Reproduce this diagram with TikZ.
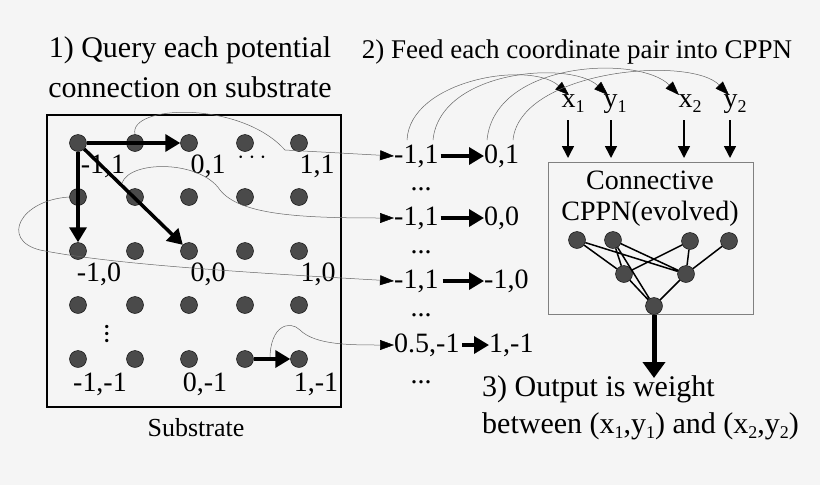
\documentclass[tikz,border=0pt]{standalone}
\usepackage{fontspec}
\setmainfont{Liberation Serif}
\usetikzlibrary{arrows.meta}
\definecolor{bg}{HTML}{F5F5F5}
\definecolor{dot}{HTML}{4A4A4A}
\begin{document}
\begin{tikzpicture}[x=1pt,y=-1pt,
  dotn/.style={circle,fill=dot,draw=black,line width=0.4pt,inner sep=0pt,minimum size=17pt},
  lbl/.style={font=\fontsize{28}{32}\selectfont,inner sep=0pt},
  big/.style={font=\fontsize{30}{34}\selectfont,inner sep=0pt},
  thick arr/.style={line width=3.5pt,-{Triangle[length=15pt,width=17pt]}},
  thin arr/.style={draw=gray!80!black,line width=0.5pt,-{Triangle[length=14pt,width=10pt,fill=black,color=black]}},
  thin/.style={draw=gray!80!black,line width=0.5pt}]
\fill[bg] (0,0) rectangle (820,485);
\useasboundingbox (0,0) rectangle (820,485);
% substrate
\draw[line width=1.5pt] (47,115) rectangle (341,407);
\foreach \c [count=\i] in {78,135,189,245,299}{
  \foreach \r [count=\j] in {143,197,251,305,359}{
    \node[dotn] (d\i\j) at (\c,\r) {};}}
\node[lbl] (l1) at (103,166) {-1,1};
\node[lbl] (l2) at (208,166) {0,1};
\node[lbl] (l3) at (252,158) {$\cdots$};
\node[lbl] (l4) at (317,166) {1,1};
\node[lbl] (l5) at (99,274) {-1,0};
\node[lbl] (l6) at (208,274) {0,0};
\node[lbl] (l7) at (318,274) {1,0};
\node[lbl] (l8) at (107,334) {\rotatebox{90}{...}};
\node[lbl] (l9) at (100,384) {-1,-1};
\node[lbl] (l10) at (205,384) {0,-1};
\node[lbl] (l11) at (316,384) {1,-1};
\node[font=\fontsize{26}{28}\selectfont,inner sep=0pt] (sub) at (196,428) {Substrate};
\node[big] (t1) at (190,50) {1) Query each potential};
\node[big] (t1b) at (190,87) {connection on substrate};
\node[font=\fontsize{27}{30}\selectfont,inner sep=0pt] (t2) at (577,52) {2) Feed each coordinate pair into CPPN};
% list
\node[lbl,anchor=west] (s1) at (394,156) {-1,1};
\node[lbl,anchor=west] (e1) at (484,156) {0,1};
\node[lbl,anchor=west] (s2) at (394,218) {-1,1};
\node[lbl,anchor=west] (e2) at (484,218) {0,0};
\node[lbl,anchor=west] (s3) at (394,281) {-1,1};
\node[lbl,anchor=west] (e3) at (484,281) {-1,0};
\node[lbl,anchor=west] (s4) at (394,345) {0.5,-1};
\node[lbl,anchor=west] (e4) at (489,345) {1,-1};
\draw[thick arr] (s1.east)++(2,0) -- (e1.west);
\draw[thick arr] (s2.east)++(2,0) -- (e2.west);
\draw[thick arr] (s3.east)++(4,0) -- (e3.west);
\draw[thick arr] (462,345) -- (e4.west);
\foreach \y [count=\k] in {189,252,315,382}{\node[lbl] (dd\k) at (421,\y) {...};}
% connecting curves
\draw[thin arr] (d21.north) .. controls (128,105) and (240,100) .. (285,150) -- (s1.west);
\draw[thin arr] (122,183) .. controls (130,160) and (200,160) .. (220,190) .. controls (240,215) and (300,218) .. (s2.west);
\draw[thin arr] (d12.west) .. controls (20,200) and (0,240) .. (40,250) .. controls (100,262) and (200,270) .. (s3.west);
\draw[thin arr] (270,359) .. controls (270,325) and (290,320) .. (300,330) .. controls (315,345) and (350,345) .. (s4.west);
\draw[thick arr] (d11) -- (d31.west);
\draw[thick arr] (d11) -- (d13.north);
\draw[thick arr] (d11) -- (d33.north west);
\draw[thick arr] (d45.east) -- (d55.west);
% CPPN
\newcommand{\sbs}[1]{\raisebox{-5pt}{\fontsize{18}{18}\selectfont #1}}
\node[lbl] (x1) at (573,104) {x\sbs{1}};
\node[lbl] (y1) at (615,104) {y\sbs{1}};
\node[lbl] (x2) at (690,104) {x\sbs{2}};
\node[lbl] (y2) at (735,104) {y\sbs{2}};
\draw[thin arr] (407,140) .. controls (410,80) and (530,60) .. (569,95);
\draw[thin arr] (433,140) .. controls (440,70) and (570,60) .. (608,95);
\draw[thin arr] (487,140) .. controls (495,60) and (640,55) .. (679,95);
\draw[thin arr] (513,140) .. controls (520,70) and (690,55) .. (729,95);
\draw[draw=gray,line width=1pt] (548,162) rectangle (753,314);
\node[lbl] (c1) at (650,180) {Connective};
\node[lbl] (c2) at (650,214) {CPPN(evolved)};
\foreach \x in {568,611,684,730}{
  \draw[line width=1.5pt,-{Triangle[length=12pt,width=12pt]}] (\x,120) -- (\x,158);}
\node[dotn] (n1) at (577,240) {};
\node[dotn] (n2) at (613,240) {};
\node[dotn] (n3) at (690,241) {};
\node[dotn] (n4) at (729,241) {};
\node[dotn] (m1) at (624,274) {};
\node[dotn] (m2) at (686,274) {};
\node[dotn] (o) at (654,306) {};
\draw[line width=1.5pt] (n1) -- (m1) (n1) -- (m2) (n2) -- (m1) (n2) -- (o) (n2) -- (m2)
  (n3) -- (m1) (n3) -- (m2) (n4) -- (m2) (m1) -- (o) (m2) -- (o);
\draw[line width=5pt,-{Triangle[length=16pt,width=22pt]}] (o.south) -- (654,378);
\node[big,anchor=west] (o1) at (482,389) {3) Output is weight};
\node[big,anchor=west] (o2) at (482,426) {between (x\sbs{1},y\sbs{1}) and (x\sbs{2},y\sbs{2})};
\end{tikzpicture}
\end{document}
